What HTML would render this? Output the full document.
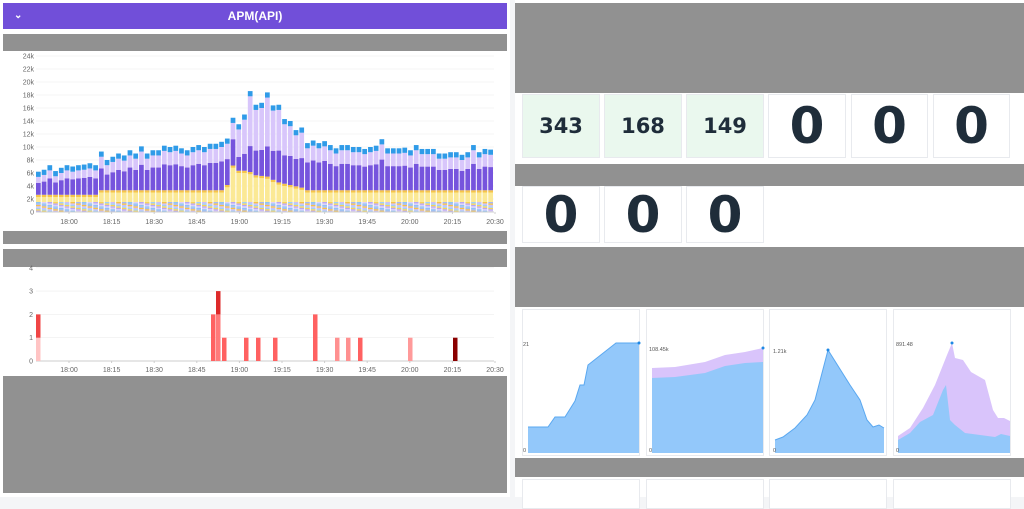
<!DOCTYPE html>
<html><head><meta charset="utf-8"><style>
body{margin:0;width:1024px;height:497px;background:#f4f5f7;position:relative;overflow:hidden;font-family:"Liberation Sans",sans-serif}
.a{position:absolute}
.g{position:absolute;background:#919191}
.w{position:absolute;background:#fff}
.t{position:absolute;background:#fff;border:1px solid #e8eaee;box-sizing:border-box;display:flex;align-items:center;justify-content:center;color:#1f2d3a;font-weight:bold;font-family:"DejaVu Sans","Liberation Sans",sans-serif}
.s{background:#eaf8ee;font-size:21px}
.z{font-size:50px}
</style></head><body>
<div class="w" style="left:0;top:0;width:510px;height:497px"></div>
<div class="a" style="left:3px;top:3px;width:504px;height:26px;background:#714fd9;color:#fff;font-weight:bold;font-size:12px;text-align:center;line-height:26px">APM(API)<span style="position:absolute;left:11px;top:0;font-size:10px">&#8964;</span></div>
<div class="g" style="left:3px;top:34px;width:504px;height:17px"></div>
<div class="g" style="left:3px;top:231px;width:504px;height:13px"></div>
<div class="g" style="left:3px;top:249px;width:504px;height:18px"></div>
<div class="g" style="left:3px;top:376px;width:504px;height:117px"></div>
<svg class="a" style="left:0;top:0" width="510" height="497" id="L" font-family="Liberation Sans" font-size="7" fill="#666"></svg>
<div class="w" style="left:515px;top:0;width:509px;height:497px"></div>
<div class="g" style="left:515px;top:3px;width:509px;height:90px"></div>
<div class="t s" style="left:522px;top:94px;width:78px;height:64px">343</div>
<div class="t s" style="left:604px;top:94px;width:78px;height:64px">168</div>
<div class="t s" style="left:686px;top:94px;width:78px;height:64px">149</div>
<div class="t z" style="left:768px;top:94px;width:78px;height:64px">0</div>
<div class="t z" style="left:851px;top:94px;width:77px;height:64px">0</div>
<div class="t z" style="left:933px;top:94px;width:77px;height:64px">0</div>
<div class="g" style="left:515px;top:164px;width:509px;height:22px"></div>
<div class="t z" style="left:522px;top:186px;width:78px;height:57px">0</div>
<div class="t z" style="left:604px;top:186px;width:78px;height:57px">0</div>
<div class="t z" style="left:686px;top:186px;width:78px;height:57px">0</div>
<div class="g" style="left:515px;top:247px;width:509px;height:60px"></div>
<div class="t" style="left:522px;top:309px;width:118px;height:147px"></div>
<div class="t" style="left:646px;top:309px;width:118px;height:147px"></div>
<div class="t" style="left:769px;top:309px;width:118px;height:147px"></div>
<div class="t" style="left:893px;top:309px;width:118px;height:147px"></div>
<div class="g" style="left:515px;top:458px;width:509px;height:19px"></div>
<div class="t" style="left:522px;top:479px;width:118px;height:30px"></div>
<div class="t" style="left:646px;top:479px;width:118px;height:30px"></div>
<div class="t" style="left:769px;top:479px;width:118px;height:30px"></div>
<div class="t" style="left:893px;top:479px;width:118px;height:30px"></div>
<svg class="a" style="left:515px;top:300px" width="509" height="160" font-family="Liberation Sans" font-size="5.5" fill="#555">
<polygon fill="#93c8fa" points="13,127 33,127 40,117 50,117 60,101 65,85 69,85 73,65 101,43 124,43 124,153 13,153"/>
<polyline fill="none" stroke="#5aa8f0" points="13,127 33,127 40,117 50,117 60,101 65,85 69,85 73,65 101,43 124,43"/>
<text x="8" y="46">21</text><text x="8" y="152">0</text>
<polygon fill="#d9c4fb" points="137,68 160,67 190,62 210,55 230,52 248,48 248,153 137,153"/>
<polygon fill="#93c8fa" points="137,78 160,77 190,73 210,66 230,63 248,62 248,153 137,153"/>
<text x="134" y="51">108.45k</text><text x="134" y="152">0</text>
<polygon fill="#93c8fa" points="260,140 268,137 280,128 292,115 300,100 313,50 335,85 345,100 352,120 358,127 364,125 369,128 369,153 260,153"/>
<polyline fill="none" stroke="#5aa8f0" points="260,140 268,137 280,128 292,115 300,100 313,50 335,85 345,100 352,120 358,127 364,125 369,128"/>
<text x="258" y="53">1.21k</text><text x="258" y="152">0</text>
<polygon fill="#d9c4fb" points="383,136 395,128 408,108 420,85 432,55 437,43 440,58 448,60 456,72 470,80 478,110 483,118 489,118 495,121 495,153 383,153"/>
<polygon fill="#93c8fa" points="383,140 395,133 405,122 418,115 428,90 431,85 435,120 440,125 450,133 465,135 480,137 486,134 495,136 495,153 383,153"/>
<text x="381" y="46">891.48</text><text x="381" y="152">0</text>
<circle cx="124" cy="43" r="1.5" fill="#1e88e5"/><circle cx="248" cy="48" r="1.5" fill="#1e88e5"/><circle cx="313" cy="50" r="1.5" fill="#1e88e5"/><circle cx="437" cy="43" r="1.5" fill="#1e88e5"/>
</svg>
<script>
var L=document.getElementById('L'),h='';
function r(x,y,w,hh,c){h+='<rect x="'+x+'" y="'+y+'" width="'+w+'" height="'+hh+'" fill="'+c+'"/>';}
function tx(x,y,s,a){h+='<text x="'+x+'" y="'+y+'" text-anchor="'+(a||'middle')+'">'+s+'</text>';}
var y0=212,k=6.5;
for(var i=0;i<=12;i++){var yy=y0-i*13;h+='<line x1="36" x2="494" y1="'+yy+'" y2="'+yy+'" stroke="#eee" stroke-width="0.6"/>';tx(34,yy+2.5,i?(i*2)+'k':'0','end');}
var T=[6.2,6.5,7.2,6.3,6.8,7.2,7,7.2,7.3,7.5,7.2,9.3,8,8.5,9,8.7,9.5,9,10.1,9,9.5,9.5,10.2,10,10.2,9.8,9.5,10,10.3,10,10.5,10.5,10.8,11.3,14.5,13.5,15,18.6,16.5,16.8,18.4,16.4,16.5,14.3,14,12.6,13,10.6,11,10.6,10.9,10.3,9.8,10.3,10.3,10,10,9.7,10,10.2,11.2,9.8,9.8,9.8,9.9,9.5,10.3,9.7,9.7,9.7,9,9,9.2,9.2,8.8,9.2,10.3,9.2,9.7,9.6];
var n=T.length,bw=458/n;
var stripe=['#b9a6f2','#f6d35a','#9fd0f7','#cdbdf8','#f5c24a','#a7b8f0','#8ec4f4','#ddd0fa'];
for(var i=0;i<n;i++){var t=T[i],x=36+i*bw,w=bw-1;
 var yl=i<11?2.3:3.0; if(i>=33&&i<=46){yl=[3.8,6.8,6,6,5.8,5.3,5.2,5.1,4.6,4.2,4,3.8,3.6,3.4][i-33];}
 var d=t<11.5?t*0.72:7.8+(t-11.5)*0.33; if(i==34)d=11.2;
 var b=0;
 for(var j=0;j<7;j++){r(x,y0-(b+0.22)*k,w,0.22*k,stripe[(j+i)%8]);b+=0.22;}
 r(x,y0-yl*k,w,(yl-b)*k,'#fbe995');
 r(x,y0-(yl+0.35)*k,w,0.35*k,'#f6c54a');
 r(x,y0-(d)*k,w,(d-yl-0.35)*k,'#7654dd');
 r(x,y0-(t-0.8)*k,w,(t-0.8-d)*k,'#d8c6fb');
 r(x,y0-t*k,w,0.8*k,'#2f9be8');
}
h+='<line x1="36" x2="494" y1="212" y2="212" stroke="#ccc"/>';
var lab=['18:00','18:15','18:30','18:45','19:00','19:15','19:30','19:45','20:00','20:15','20:30'];
for(var i=0;i<11;i++){var xx=69+i*42.6;tx(xx,224,lab[i]);tx(xx,372,lab[i]);h+='<line x1="'+xx+'" x2="'+xx+'" y1="212" y2="214" stroke="#ccc"/><line x1="'+xx+'" x2="'+xx+'" y1="361" y2="363" stroke="#ccc"/>';}
for(var i=0;i<=4;i++){var yy=361-i*23.3;h+='<line x1="36" x2="494" y1="'+yy+'" y2="'+yy+'" stroke="#eee" stroke-width="0.6"/>';tx(33,yy+2.5,i,'end');}
h+='<line x1="36" x2="494" y1="361" y2="361" stroke="#ccc"/>';
var B=[[36,[[1,'#ffc4c4'],[1,'#f04545']]],[211,[[2,'#ff6161']]],[216,[[2,'#ff7a7a'],[1,'#dd2a2a']]],[222,[[1,'#ff6161']]],[244,[[1,'#ff6161']]],[256,[[1,'#ff6161']]],[273,[[1,'#ff6161']]],[313,[[2,'#ff6161']]],[335,[[1,'#ff9090']]],[346,[[1,'#ff9090']]],[358,[[1,'#ff6161']]],[408,[[1,'#ff9a9a']]],[453,[[1,'#8b0000']]]];
B.forEach(function(q){var b=0;q[1].forEach(function(s){r(q[0],361-(b+s[0])*23.3,4.5,s[0]*23.3,s[1]);b+=s[0];});});
L.innerHTML=h;
</script>
</body></html>
